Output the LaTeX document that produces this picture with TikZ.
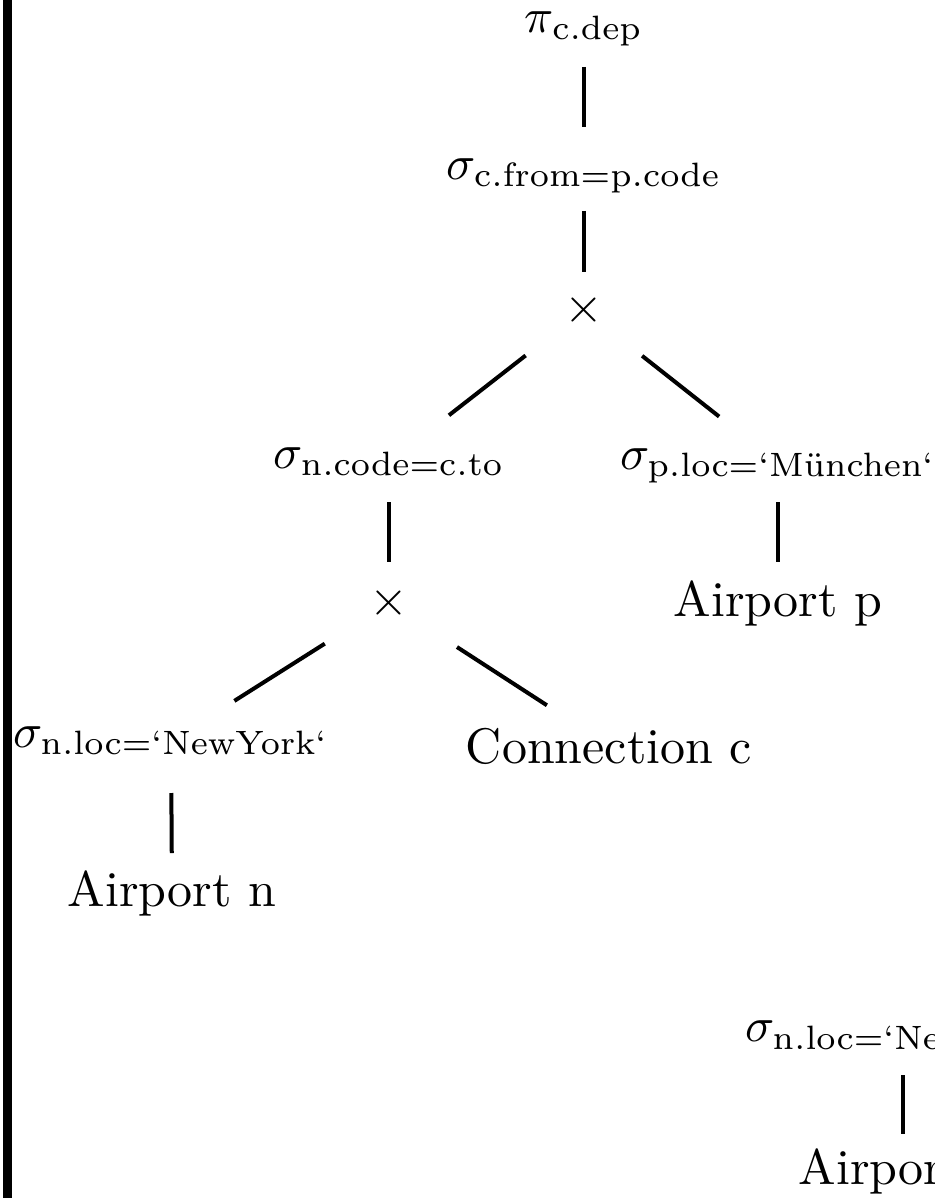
\documentclass[tikz,border=0pt]{standalone}
\begin{document}
\begin{tikzpicture}[x=0.2pt,y=-0.2pt,
	sel/.style={inner sep=0pt,text height=5pt,text depth=2.2pt,scale=0.965},
	prod/.style={inner sep=0pt,text height=5pt,text depth=0pt},
	rel/.style={inner sep=0pt,text height=7pt,text depth=0pt},
	edge/.style={line width=0.8pt}]
	\path[use as bounding box,clip] (0,0) rectangle (934,1198);
	\fill (3,0) rectangle (12,1198);
	\node[sel] (pi) at (584,26) {$\pi_{\mathrm{c.dep}}$};
	\node[sel] (selc) at (584,173) {$\sigma_{\mathrm{c.from=p.code}}$};
	\node[prod] (cross1) at (584,310) {$\times$};
	\node[sel] (seln) at (389,462) {$\sigma_{\mathrm{n.code=c.to}}$};
	\node[sel] (selp) at (778,463) {$\sigma_{\mathrm{p.loc=`M\ddot{u}nchen`}}$};
	\node[prod] (cross2) at (389,603) {$\times$};
	\node[rel] (airp) at (778,598.5) {Airport p};
	\node[sel] (selny) at (171,741) {$\sigma_{\mathrm{n.loc=`NewYork`}}$};
	\node[rel] (conn) at (609,745.5) {Connection c};
	\node[rel] (airn) at (172,888.5) {Airport n};
	\node[sel] (selny2) at (903,1035) {$\sigma_{\mathrm{n.loc=`NewYork`}}$};
	\node[rel] (airn2) at (903,1166.5) {Airport n};
	\draw[edge,shorten <=8.2pt,shorten >=9.2pt] (pi.center) -- (selc.center);
	\draw[edge,shorten <=7.6pt,shorten >=7.6pt] (selc.center) -- (cross1.center);
	\draw[edge,shorten <=14.8pt,shorten >=15.2pt] (cross1.center) -- (seln.center);
	\draw[edge,shorten <=14.8pt,shorten >=15pt] (cross1.center) -- (selp.center);
	\draw[edge,shorten <=8pt,shorten >=8.2pt] (seln.center) -- (cross2.center);
	\draw[edge,shorten <=7.8pt,shorten >=7.3pt] (selp.center) -- (airp.center);
	\draw[edge,shorten <=15.2pt,shorten >=15pt] (cross2.center) -- (selny.center);
	\draw[edge,shorten <=16.2pt,shorten >=14.8pt] (cross2.center) -- (conn.center);
	\draw[edge,shorten <=10.4pt,shorten >=7.1pt] (selny.center) -- (airn.center);
	\draw[edge,shorten <=8pt,shorten >=6.5pt] (selny2.center) -- (airn2.center);
\end{tikzpicture}
\end{document}
